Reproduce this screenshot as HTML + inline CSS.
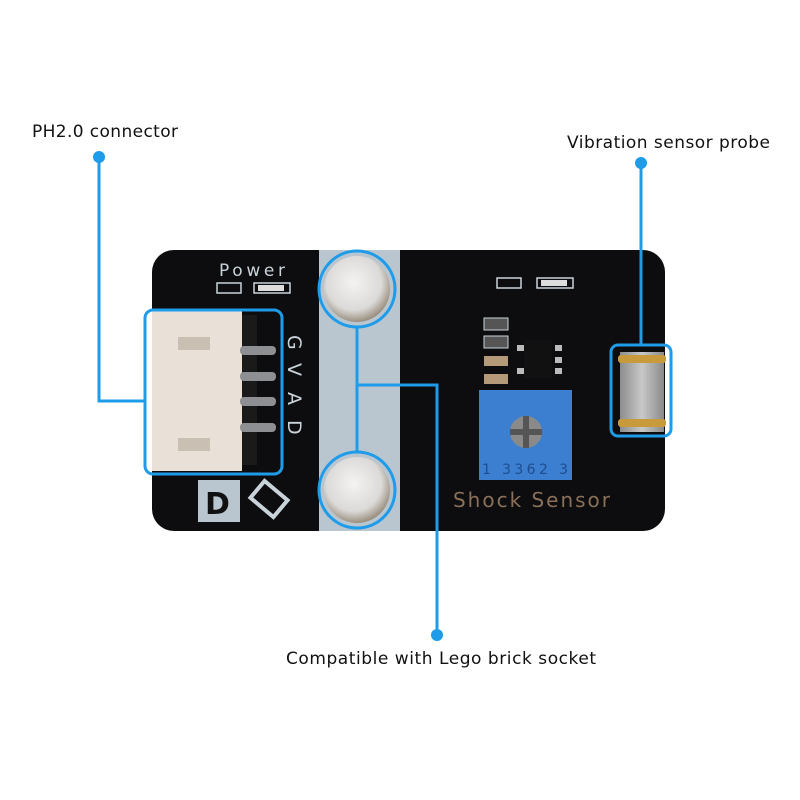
<!DOCTYPE html>
<html><head><meta charset="utf-8"><style>
html,body{margin:0;padding:0;background:#fff;}
svg{display:block}
text{font-family:"DejaVu Sans","Liberation Sans",sans-serif;}
</style></head><body>
<svg width="800" height="800" viewBox="0 0 800 800">
<defs>
<radialGradient id="hole" cx="0.45" cy="0.4" r="0.6">
<stop offset="0" stop-color="#f4f3f2"/><stop offset="0.7" stop-color="#dcdad8"/><stop offset="1" stop-color="#9a9080"/>
</radialGradient>
<linearGradient id="cyl" x1="0" x2="1">
<stop offset="0" stop-color="#8d8d8d"/><stop offset="0.5" stop-color="#c8c8c8"/><stop offset="1" stop-color="#8a8a8a"/>
</linearGradient>
</defs>
<!-- board -->
<rect x="152" y="250" width="513" height="281" rx="22" fill="#0d0d0f"/>
<rect x="319" y="250" width="81" height="281" fill="#b9c6cf"/>
<!-- power -->
<text x="219" y="276" font-size="17" fill="#c9d3da" textLength="66">Power</text>
<rect x="217" y="283" width="24" height="10" fill="none" stroke="#c9d3da" stroke-width="1.5"/>
<rect x="254" y="283" width="36" height="10" fill="none" stroke="#c9d3da" stroke-width="1.5"/>
<rect x="258" y="285" width="26" height="6" fill="#ddd"/>
<!-- connector -->
<rect x="152" y="309" width="90" height="162" fill="#e9e1d8"/>
<rect x="178" y="337" width="32" height="13" fill="#c9bfb3"/>
<rect x="178" y="438" width="32" height="13" fill="#c9bfb3"/>
<rect x="242" y="315" width="15" height="150" fill="#1a1a1a"/>
<g fill="#8d8f92">
<rect x="240" y="346" width="36" height="9" rx="4"/>
<rect x="240" y="372" width="36" height="9" rx="4"/>
<rect x="240" y="397" width="36" height="9" rx="4"/>
<rect x="240" y="423" width="36" height="9" rx="4"/>
</g>
<g font-size="19" fill="#c9d3da">
<text transform="translate(288,335) rotate(90)">G</text>
<text transform="translate(288,363) rotate(90)">V</text>
<text transform="translate(288,392) rotate(90)">A</text>
<text transform="translate(288,420) rotate(90)">D</text>
</g>
<rect x="198" y="480" width="42" height="42" fill="#b9c6cf"/>
<text x="205" y="514" font-size="30" font-family="Liberation Serif,serif" font-weight="bold" fill="#111">D</text>
<rect x="254" y="488" width="30" height="22" fill="none" stroke="#c9d3da" stroke-width="4" transform="rotate(40 269 499)"/>
<!-- holes -->
<circle cx="357" cy="289" r="33" fill="url(#hole)"/>
<circle cx="357" cy="490" r="33" fill="url(#hole)"/>
<!-- right components -->
<rect x="497" y="278" width="24" height="10" fill="none" stroke="#c9d3da" stroke-width="1.5"/>
<rect x="537" y="278" width="36" height="10" fill="none" stroke="#c9d3da" stroke-width="1.5"/>
<rect x="541" y="280" width="26" height="6" fill="#ddd"/>
<rect x="484" y="318" width="24" height="12" fill="#555" stroke="#c9d3da"/>
<rect x="484" y="336" width="24" height="12" fill="#555" stroke="#c9d3da"/>
<rect x="484" y="356" width="24" height="10" fill="#b59a7a"/>
<rect x="484" y="374" width="24" height="10" fill="#b59a7a"/>
<rect x="524" y="340" width="28" height="38" fill="#111"/>
<g fill="#bbb"><rect x="517" y="345" width="7" height="6"/><rect x="517" y="368" width="7" height="6"/><rect x="555" y="345" width="7" height="6"/><rect x="555" y="357" width="7" height="6"/><rect x="555" y="368" width="7" height="6"/></g>
<rect x="479" y="390" width="93" height="90" fill="#3c7fd0"/>
<circle cx="526" cy="432" r="16" fill="#8a8a8a"/>
<rect x="523" y="416" width="6" height="32" fill="#555"/><rect x="510" y="429" width="32" height="6" fill="#555"/>
<text x="482" y="474" font-size="14" fill="#1d4d8f" textLength="86">1  3362  3</text>
<text x="453" y="507" font-size="20" fill="#8a7058" font-family="DejaVu Sans Mono,Liberation Mono,monospace" textLength="157">Shock Sensor</text>
<!-- probe -->
<rect x="620" y="352" width="44" height="80" fill="url(#cyl)"/>
<rect x="618" y="355" width="48" height="8" rx="3" fill="#c79a3c"/>
<rect x="618" y="419" width="48" height="8" rx="3" fill="#c79a3c"/>
<!-- annotations -->
<g stroke="#1e9be9" stroke-width="3" fill="none">
<rect x="145" y="310" width="137" height="164" rx="8"/>
<rect x="611" y="345" width="60" height="91" rx="7"/>
<circle cx="357" cy="289" r="38"/>
<circle cx="357" cy="490" r="38"/>
<polyline points="99,157 99,401 145,401"/>
<line x1="641" y1="163" x2="641" y2="345"/>
<line x1="357" y1="327" x2="357" y2="452"/>
<polyline points="357,385 437,385 437,635"/>
</g>
<g fill="#1e9be9">
<circle cx="99" cy="157" r="6"/>
<circle cx="641" cy="163" r="6"/>
<circle cx="437" cy="635" r="6"/>
</g>
<g font-size="17" fill="#111">
<text x="32" y="137" textLength="146">PH2.0 connector</text>
<text x="567" y="148" textLength="203">Vibration sensor probe</text>
<text x="286" y="664" textLength="310">Compatible with Lego brick socket</text>
</g>
</svg>
</body></html>
